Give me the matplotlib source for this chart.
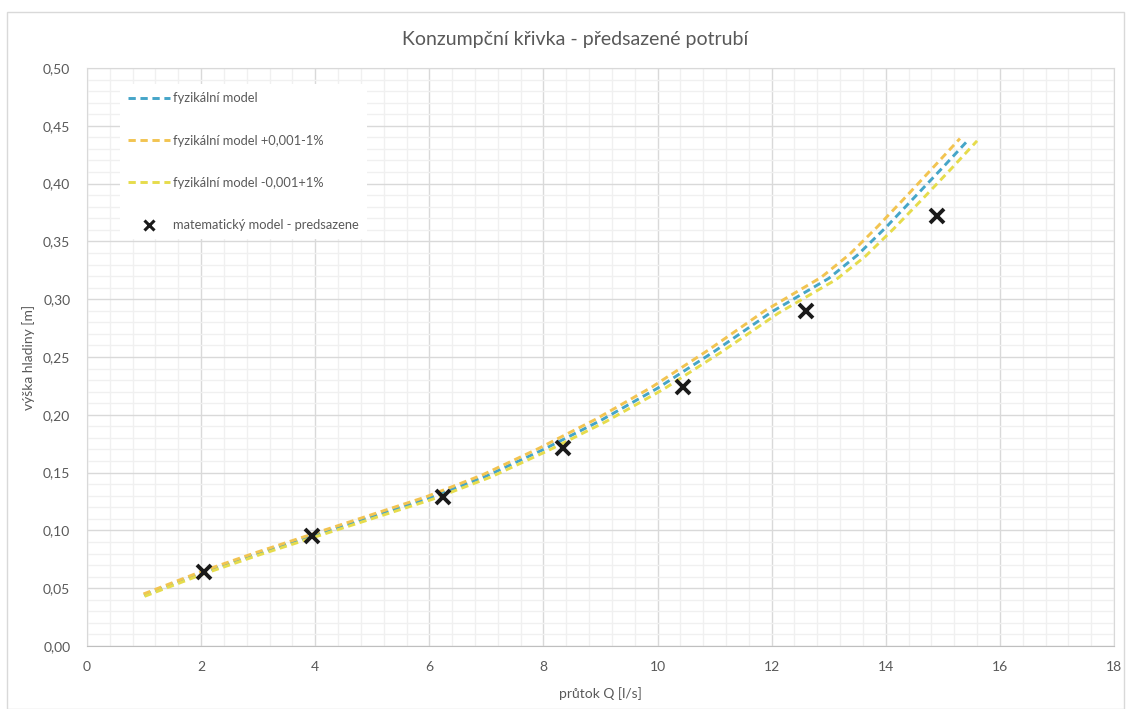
import matplotlib
matplotlib.use('Agg')
from matplotlib import pyplot as plt
from matplotlib.ticker import MultipleLocator, FuncFormatter
from matplotlib.patches import Rectangle

# fyzikální model (průtok Q [l/s], výška hladiny [m])
q_model = [1.00, 2.00, 3.00, 4.00, 5.00, 6.00, 7.00, 8.00, 9.00, 10.00,
           11.00, 12.00, 13.00, 13.50, 14.00, 14.50, 15.00, 15.45]
h_model = [0.044, 0.063, 0.080, 0.096, 0.112, 0.128, 0.147, 0.170, 0.195, 0.223,
           0.255, 0.289, 0.318, 0.338, 0.362, 0.388, 0.414, 0.438]

# fyzikální model +0,001-1%
q_plus = [0.99, 1.98, 2.97, 3.96, 4.95, 5.94, 6.93, 7.92, 8.91, 9.90,
          10.89, 11.88, 12.87, 13.37, 13.86, 14.36, 14.85, 15.30]
h_plus = [0.045, 0.064, 0.081, 0.097, 0.113, 0.129, 0.148, 0.171, 0.196, 0.224,
          0.256, 0.290, 0.319, 0.339, 0.363, 0.389, 0.415, 0.439]

# fyzikální model -0,001+1%
q_minus = [1.01, 2.02, 3.03, 4.04, 5.05, 6.06, 7.07, 8.08, 9.09, 10.10,
           11.11, 12.12, 13.13, 13.64, 14.14, 14.65, 15.15, 15.60]
h_minus = [0.043, 0.062, 0.079, 0.095, 0.111, 0.127, 0.146, 0.169, 0.194, 0.222,
           0.254, 0.288, 0.317, 0.337, 0.361, 0.387, 0.413, 0.437]

# matematický model - predsazene
q_mat = [2.05, 3.95, 6.24, 8.35, 10.44, 12.60, 14.89]
h_mat = [0.064, 0.095, 0.129, 0.171, 0.224, 0.290, 0.372]

plt.rcParams['font.family'] = ['Lato', 'DejaVu Sans']
gray = '#595959'

fig = plt.figure(figsize=(11.29, 7.09), dpi=100)
ax = fig.add_axes([87 / 1129, 1 - 646 / 709, (1114 - 87) / 1129, (646 - 68) / 709])

# rámeček grafu
fig.patches.append(Rectangle((7 / 1129, 0), (1124 - 7) / 1129, 1 - 12 / 709,
                             transform=fig.transFigure, fill=False,
                             edgecolor='#d9d9d9', linewidth=1))

ax.plot(q_model, h_model, color='#45a5c8', lw=2.1, dashes=(2.5, 1.6),
        dash_capstyle='butt', label='fyzikální model')
ax.plot(q_plus, h_plus, color='#f2c451', lw=2.1, dashes=(2.5, 1.6),
        dash_capstyle='butt', label='fyzikální model +0,001-1%')
ax.plot(q_minus, h_minus, color='#e6dc4c', lw=2.1, dashes=(2.5, 1.6),
        dash_capstyle='butt', label='fyzikální model -0,001+1%')
ax.plot(q_mat, h_mat, linestyle='none', marker='x', color='#1a1a1a',
        markersize=10, markeredgewidth=2.8, label='matematický model - predsazene')

ax.set_xlim(0, 18)
ax.set_ylim(0, 0.5)
ax.xaxis.set_major_locator(MultipleLocator(2))
ax.xaxis.set_minor_locator(MultipleLocator(0.4))
ax.yaxis.set_major_locator(MultipleLocator(0.05))
ax.yaxis.set_minor_locator(MultipleLocator(0.01))
ax.yaxis.set_major_formatter(FuncFormatter(lambda v, p: f'{v:.2f}'.replace('.', ',')))
ax.xaxis.set_major_formatter(FuncFormatter(lambda v, p: f'{v:.0f}'))

ax.grid(True, which='major', color='#d9d9d9', linewidth=1)
ax.grid(True, which='minor', color='#f0f0f0', linewidth=1)
ax.set_axisbelow(True)
ax.tick_params(which='both', length=0, colors=gray, labelsize=10)
ax.tick_params(axis='y', pad=12)
ax.tick_params(axis='x', pad=11)
for s in ax.spines.values():
    s.set_color('#d9d9d9')
ax.spines['bottom'].set_color('#bfbfbf')

ax.set_xlabel('průtok Q [l/s]', color=gray, fontsize=10, labelpad=10)
ax.set_ylabel('výška hladiny [m]', color=gray, fontsize=10, labelpad=6)
fig.text(575 / 1129, 1 - 39 / 709, 'Konzumpční křivka - předsazené potrubí',
         ha='center', va='center', color=gray, fontsize=14)

leg = ax.legend(loc='upper left', bbox_to_anchor=(114 / 1129, 1 - 78 / 709),
                bbox_transform=fig.transFigure, frameon=True, fancybox=False,
                edgecolor='none', facecolor='white', framealpha=1,
                fontsize=9.3, labelspacing=2.35, handlelength=3.2,
                handletextpad=0.3, borderpad=0.6)
for t in leg.get_texts():
    t.set_color(gray)
leg.legend_handles[3].set_markersize(7)
leg.legend_handles[3].set_markeredgewidth(2.2)

fig.savefig('out.png', dpi=100, facecolor='white')
